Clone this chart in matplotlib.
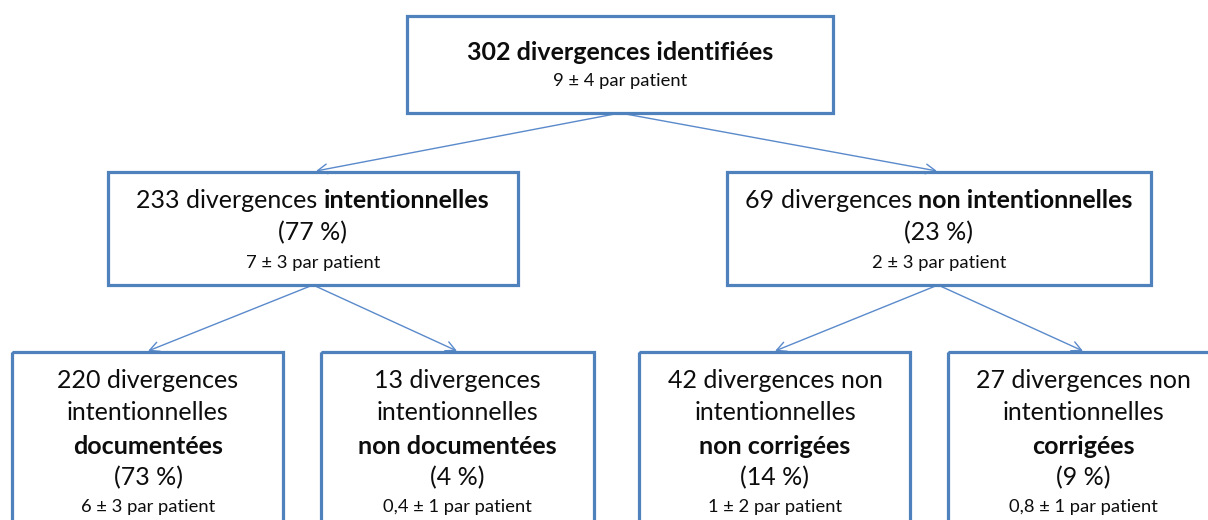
import matplotlib
matplotlib.use("Agg")
import matplotlib.pyplot as plt
from matplotlib.patches import Rectangle

plt.rcParams['font.family'] = ['Lato', 'DejaVu Sans']

# ---- data ----
counts = [302, 233, 69, 220, 13, 42, 27]
percents = [None, 77, 23, 73, 4, 14, 9]
per_patient = ["9 ± 4", "7 ± 3", "2 ± 3", "6 ± 3", "0,4 ± 1", "1 ± 2", "0,8 ± 1"]
plain_parts = ["divergences", "divergences ", "divergences ", "divergences", "divergences",
               "divergences non", "divergences non"]
bold_parts = ["identifiées", "intentionnelles", "non intentionnelles", "documentées",
              "non documentées", "non corrigées", "corrigées"]
parent = [None, 0, 0, 1, 1, 2, 2]

# ---- layout (pixel coordinates, y downwards) ----
W, H = 1208, 520
boxes = [
    (407, 16, 833, 113),
    (108, 172, 518, 285),
    (727, 172, 1151, 285),
    (12, 352, 283, 560),
    (321, 352, 594, 560),
    (639, 352, 910, 560),
    (948, 352, 1230, 560),
]
BLUE = '#4F81BD'
ARROW = '#5A8ACB'
TXT = '#0d0d0d'
BIG = 18.0
SMALL = 13.2

fig = plt.figure(figsize=(W / 100, H / 100), dpi=100)
ax = fig.add_axes([0, 0, 1, 1])
ax.set_xlim(0, W)
ax.set_ylim(H, 0)
ax.axis('off')
fig.patch.set_facecolor('white')

for (x0, y0, x1, y1) in boxes:
    ax.add_patch(Rectangle((x0, y0), x1 - x0, y1 - y0, fill=False,
                           edgecolor=BLUE, linewidth=2.3, zorder=2))

renderer = fig.canvas.get_renderer()


def mixed_line(cx, cy, segments, size):
    texts = []
    for s, w in segments:
        t = ax.text(0, cy, s, fontsize=size, fontweight=w, ha='left',
                    va='center', color=TXT, zorder=3)
        texts.append(t)
    widths = [t.get_window_extent(renderer).width for t in texts]
    total = sum(widths)
    x = cx - total / 2
    for t, wd in zip(texts, widths):
        t.set_x(x)
        x += wd


# top box
b = boxes[0]
cx = (b[0] + b[2]) / 2
mixed_line(cx, 53, [(f"{counts[0]} {plain_parts[0]} {bold_parts[0]}", 'bold')], BIG)
mixed_line(cx, 81, [(f"{per_patient[0]} par patient", 'normal')], SMALL)

# middle boxes
for i in (1, 2):
    b = boxes[i]
    cx = (b[0] + b[2]) / 2
    mixed_line(cx, 200, [(f"{counts[i]} ", 'normal'), (plain_parts[i], 'normal'),
                         (bold_parts[i], 'bold')], BIG)
    mixed_line(cx, 233, [(f"({percents[i]} %)", 'normal')], BIG)
    mixed_line(cx, 263, [(f"{per_patient[i]} par patient", 'normal')], SMALL)

# bottom boxes
bottom_centres = [148, 457, 775, 1083]
for k, i in enumerate(range(3, 7)):
    cx = bottom_centres[k]
    mixed_line(cx, 380, [(f"{counts[i]} {plain_parts[i]}", 'normal')], BIG)
    mixed_line(cx, 412, [("intentionnelles", 'normal')], BIG)
    mixed_line(cx, 446, [(bold_parts[i], 'bold')], BIG)
    mixed_line(cx, 478, [(f"({percents[i]} %)", 'normal')], BIG)
    mixed_line(cx, 507, [(f"{per_patient[i]} par patient", 'normal')], SMALL)

# arrows
starts = {0: (620, 113), 1: (313, 285), 2: (938, 285)}
ends = {1: (316, 171), 2: (937, 171), 3: (148, 351), 4: (457, 351),
        5: (775, 351), 6: (1083, 351)}
for i in range(1, 7):
    p = parent[i]
    ax.annotate("", xy=ends[i], xytext=starts[p],
                arrowprops=dict(arrowstyle='->,head_length=0.7,head_width=0.35',
                                color=ARROW, lw=1.0, shrinkA=0, shrinkB=0),
                zorder=1)

fig.savefig("out.png", dpi=100, facecolor='white')
